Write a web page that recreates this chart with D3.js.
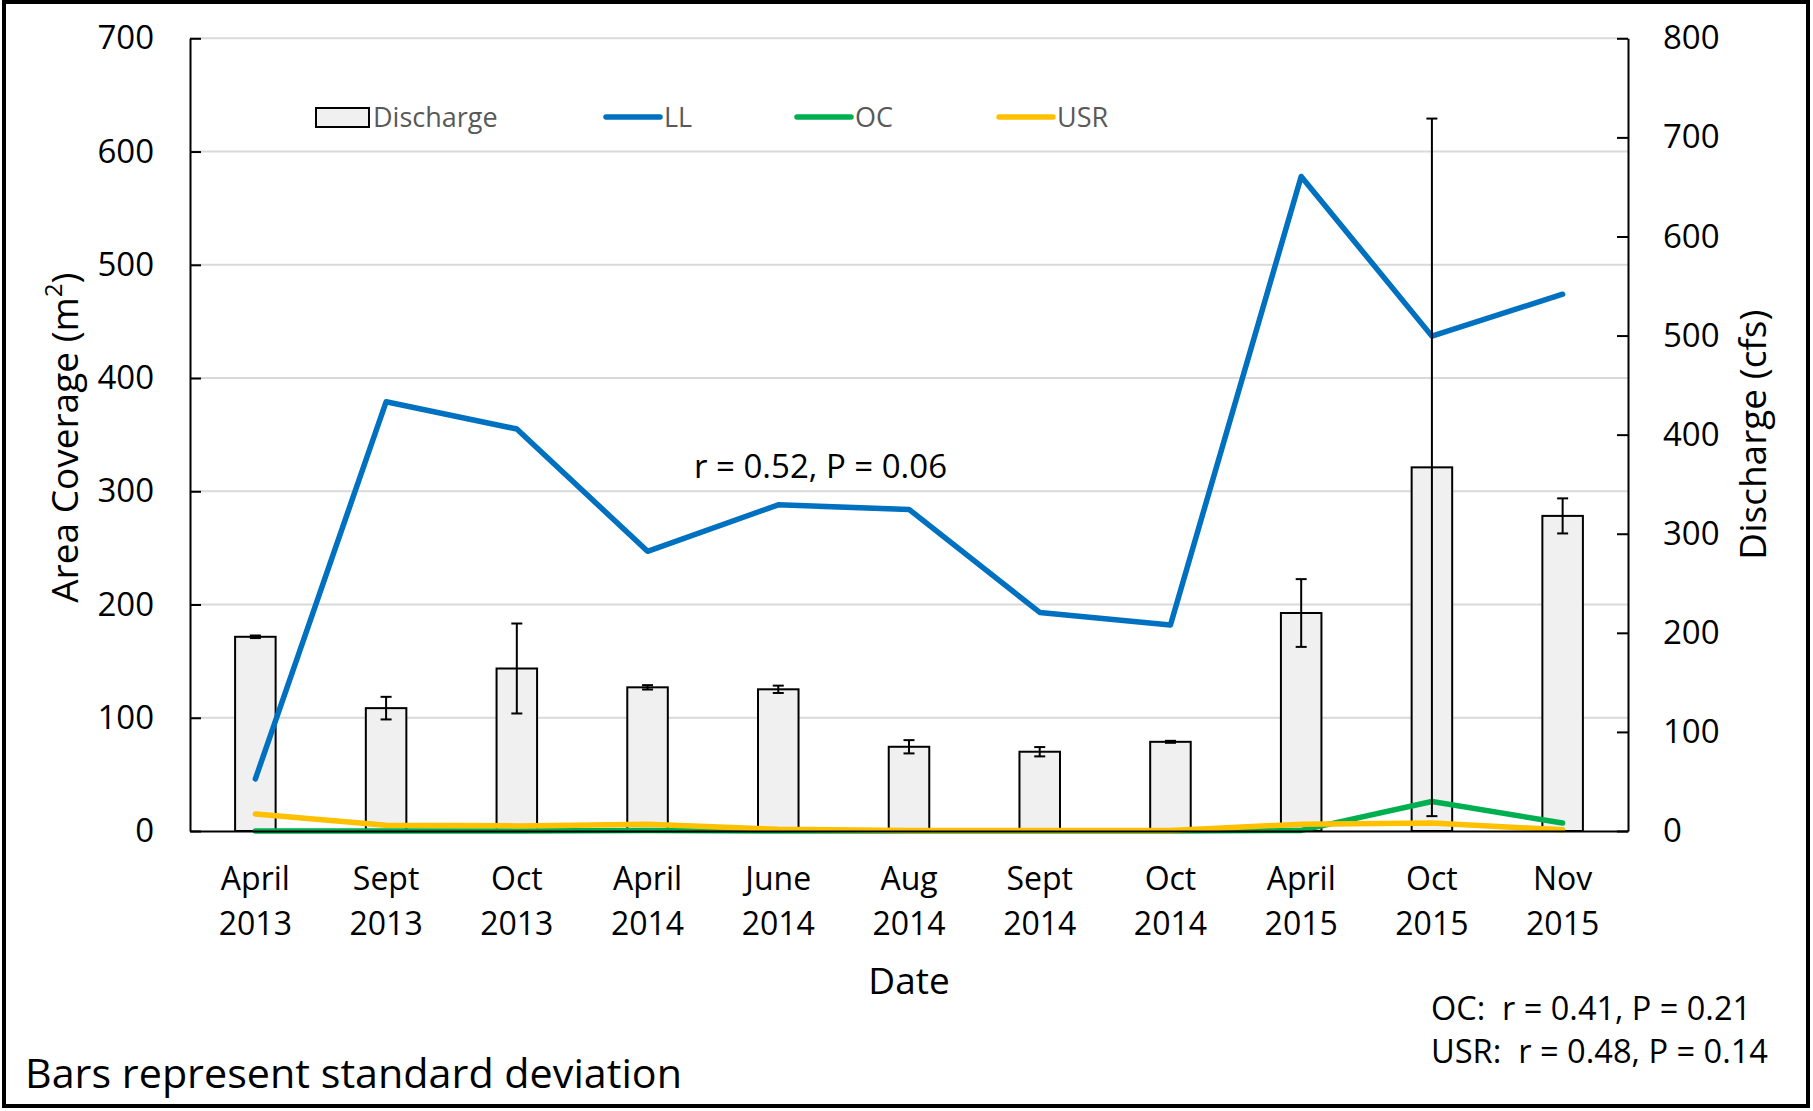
<!DOCTYPE html>
<html>
<head>
<meta charset="utf-8">
<script src="https://cdn.jsdelivr.net/npm/d3@7/dist/d3.min.js"></script>
<style>
    body { margin: 0; background: #fff; }
    svg text { font-family: "Open Sans", sans-serif; }
</style>
</head>
<body>
<svg id="chart" width="1813" height="1111"></svg>
<script>
//data
var months = ["April", "Sept", "Oct", "April", "June", "Aug", "Sept", "Oct", "April", "Oct", "Nov"];
var years = ["2013", "2013", "2013", "2014", "2014", "2014", "2014", "2014", "2015", "2015", "2015"];
var discharge = [196, 124, 164, 145, 143, 85, 80, 90, 220, 367, 318]; //cfs, right axis
var dischargeSD = [1.3, 11.4, 45.4, 2.2, 3.7, 6.7, 4.7, 1, 34.2, 352, 17.7];
var ll = [46, 379, 355, 247, 288, 284, 193, 182, 578, 437, 474]; //m2, left axis
var oc = [0, 0, 0, 0.5, 0, 0, 0, 0, 0.5, 26, 7];
var usr = [15, 5, 4.5, 6, 1.5, 0.5, 0.5, 0.5, 6, 7, 1];
var leftTicks = [0, 100, 200, 300, 400, 500, 600, 700];
var rightTicks = [0, 100, 200, 300, 400, 500, 600, 700, 800];
var lineNames = ["LL", "OC", "USR"];
var lineColors = ["#0070c0", "#00b050", "#ffc000"];

drawChart();

function drawChart() {
    var svg = d3.select("#chart"),
        left = 190, right = 1628, top = 38.3, bottom = 831,
        fontColor = "#000",
        gridColor = "#d9d9d9",
        barFill = "#f0f0f0";

    var cats = months.map(function (m, i) { return m + " " + years[i]; });

    var x = d3.scaleBand().domain(cats).range([left, right]);
    var yL = d3.scaleLinear().domain([0, 700]).range([bottom, top]);
    var yR = d3.scaleLinear().domain([0, 800]).range([bottom, top]);
    var barW = x.bandwidth() * 0.31;
    function cx(i) { return x(cats[i]) + x.bandwidth() / 2; }

    //outer frame
    svg.append("rect")
        .attr("x", 4).attr("y", 2).attr("width", 1804).attr("height", 1104)
        .attr("fill", "#fff").attr("stroke", "#000").attr("stroke-width", 4);

    //gridlines
    svg.append("g").selectAll("line")
        .data(leftTicks.slice(1))
        .enter().append("line")
        .attr("x1", left).attr("x2", right)
        .attr("y1", function (d) { return yL(d); })
        .attr("y2", function (d) { return yL(d); })
        .attr("stroke", gridColor).attr("stroke-width", 2);

    //bars
    svg.append("g").selectAll("rect")
        .data(discharge)
        .enter().append("rect")
        .attr("x", function (d, i) { return cx(i) - barW / 2; })
        .attr("y", function (d) { return yR(d); })
        .attr("width", barW)
        .attr("height", function (d) { return yR(0) - yR(d); })
        .attr("fill", barFill).attr("stroke", "#000").attr("stroke-width", 2);

    //lines
    var series = [ll, oc, usr];
    var line = d3.line()
        .x(function (d, i) { return cx(i); })
        .y(function (d) { return yL(d); });
    series.forEach(function (s, k) {
        svg.append("path")
            .attr("d", line(s))
            .attr("fill", "none")
            .attr("stroke", lineColors[k])
            .attr("stroke-width", 5.5)
            .attr("stroke-linecap", "round")
            .attr("stroke-linejoin", "round");
    });

    //error bars
    var eb = svg.append("g").attr("stroke", "#000").attr("stroke-width", 2);
    discharge.forEach(function (d, i) {
        var hi = yR(d + dischargeSD[i]), lo = yR(d - dischargeSD[i]), c = cx(i);
        eb.append("line").attr("x1", c).attr("x2", c).attr("y1", hi).attr("y2", lo);
        eb.append("line").attr("x1", c - 5.5).attr("x2", c + 5.5).attr("y1", hi).attr("y2", hi);
        eb.append("line").attr("x1", c - 5.5).attr("x2", c + 5.5).attr("y1", lo).attr("y2", lo);
    });

    //axes
    var axL = svg.append("g")
        .attr("transform", "translate(" + left + ",0)")
        .call(d3.axisLeft(yL).tickValues(leftTicks).tickSizeInner(-11).tickSizeOuter(0).tickPadding(36));
    var axR = svg.append("g")
        .attr("transform", "translate(" + right + ",0)")
        .call(d3.axisRight(yR).tickValues(rightTicks).tickSizeInner(-11).tickSizeOuter(0).tickPadding(35));
    var axB = svg.append("g")
        .attr("transform", "translate(0," + bottom + ")")
        .call(d3.axisBottom(x).tickSize(0).tickFormat(""));

    [axL, axR, axB].forEach(function (a) {
        a.attr("font-family", null).attr("font-size", 33);
        a.selectAll(".domain").attr("stroke", "#000").attr("stroke-width", 2);
        a.selectAll(".tick line").attr("stroke", "#000").attr("stroke-width", 2);
        a.selectAll(".tick text").attr("fill", fontColor);
    });

    axB.selectAll(".tick text").remove();
    axB.selectAll(".tick").each(function (d, i) {
        var t = d3.select(this).append("text")
            .attr("text-anchor", "middle").attr("fill", fontColor).attr("font-size", 32);
        t.append("tspan").attr("x", 0).attr("y", 59).text(months[i]);
        t.append("tspan").attr("x", 0).attr("y", 104).text(years[i]);
    });

    //axis titles
    var tl = svg.append("text")
        .attr("transform", "translate(78," + ((top + bottom) / 2 + 3) + ") rotate(-90)")
        .attr("text-anchor", "middle").attr("font-size", 37).attr("fill", fontColor);
    tl.append("tspan").text("Area Coverage (m");
    tl.append("tspan").attr("baseline-shift", "super").attr("font-size", 24).text("2");
    tl.append("tspan").text(")");

    svg.append("text")
        .attr("transform", "translate(1766," + ((top + bottom) / 2) + ") rotate(-90)")
        .attr("text-anchor", "middle").attr("font-size", 37).attr("fill", fontColor)
        .text("Discharge (cfs)");

    svg.append("text")
        .attr("x", (left + right) / 2).attr("y", 994)
        .attr("text-anchor", "middle").attr("font-size", 37).attr("fill", fontColor)
        .text("Date");

    //legend
    var lg = svg.append("g").attr("font-size", 27).attr("fill", "#595959");
    lg.append("rect")
        .attr("x", 316).attr("y", 108).attr("width", 53).attr("height", 19)
        .attr("fill", barFill).attr("stroke", "#000").attr("stroke-width", 2);
    lg.append("text").attr("x", 373).attr("y", 127).text("Discharge");
    var legX = [606, 797, 999];
    lineNames.forEach(function (n, k) {
        lg.append("line")
            .attr("x1", legX[k]).attr("x2", legX[k] + 54)
            .attr("y1", 117).attr("y2", 117)
            .attr("stroke", lineColors[k]).attr("stroke-width", 5.5)
            .attr("stroke-linecap", "round");
        lg.append("text").attr("x", legX[k] + 58).attr("y", 127).text(n);
    });

    //annotations
    svg.append("text")
        .attr("x", 694).attr("y", 478).attr("font-size", 33).attr("fill", fontColor)
        .text("r = 0.52, P = 0.06");

    svg.append("text")
        .attr("x", 1431).attr("y", 1020).attr("font-size", 32).attr("fill", fontColor)
        .attr("textLength", 320).attr("lengthAdjust", "spacingAndGlyphs")
        .style("white-space", "pre")
        .text("OC:  r = 0.41, P = 0.21");
    svg.append("text")
        .attr("x", 1431).attr("y", 1063).attr("font-size", 32).attr("fill", fontColor)
        .attr("textLength", 337).attr("lengthAdjust", "spacingAndGlyphs")
        .style("white-space", "pre")
        .text("USR:  r = 0.48, P = 0.14");

    svg.append("text")
        .attr("x", 25).attr("y", 1088).attr("font-size", 40).attr("fill", fontColor)
        .attr("textLength", 657).attr("lengthAdjust", "spacingAndGlyphs")
        .text("Bars represent standard deviation");
}
</script>
</body>
</html>
